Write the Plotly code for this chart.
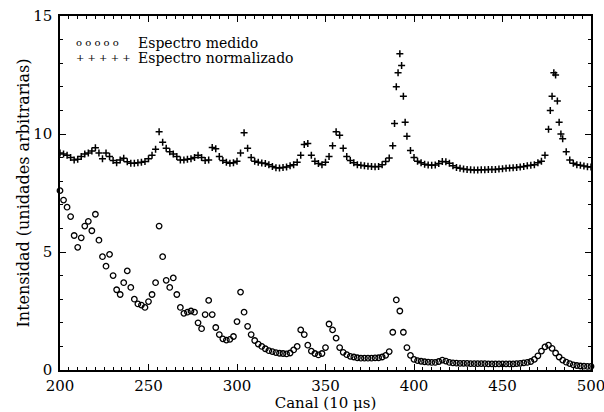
import plotly.graph_objects as go

# Channels (step of 2) plus a few extra points around the sharp peaks
canal = list(range(200, 501, 2))

medido = [
    7.6, 7.2, 6.9, 6.5, 5.7, 5.2, 5.6, 6.1, 6.3, 5.9,
    6.6, 5.5, 4.8, 4.4, 4.9, 4.0, 3.4, 3.2, 3.7, 4.2,
    3.5, 3.0, 2.8, 2.75, 2.65, 2.9, 3.2, 3.7, 6.1, 4.8,
    3.8, 3.5, 3.9, 3.2, 2.65, 2.4, 2.45, 2.5, 2.45, 2.0,
    1.75, 2.35, 2.95, 2.35, 1.8, 1.5, 1.32, 1.27, 1.3, 1.42,
    2.05, 3.3, 2.45, 1.85, 1.5, 1.25, 1.1, 1.0, 0.9, 0.82,
    0.78, 0.74, 0.71, 0.7, 0.68, 0.72, 0.85, 1.0, 1.7, 1.5,
    1.05, 0.8, 0.7, 0.64, 0.7, 0.95, 1.95, 1.7, 1.35, 0.95,
    0.75, 0.65, 0.58, 0.55, 0.52, 0.5, 0.5, 0.5, 0.5, 0.51,
    0.52, 0.55, 0.62, 0.78, 1.6, 2.97, 2.5, 1.6, 0.95, 0.62,
    0.45, 0.4, 0.37, 0.35, 0.33, 0.32, 0.32, 0.36, 0.42, 0.38,
    0.32, 0.3, 0.29, 0.28, 0.28, 0.28, 0.27, 0.27, 0.27, 0.27,
    0.27, 0.26, 0.26, 0.26, 0.26, 0.26, 0.26, 0.26, 0.26, 0.27,
    0.28, 0.3, 0.32, 0.36, 0.45, 0.6, 0.8, 0.98, 1.05, 0.92,
    0.72, 0.55, 0.42, 0.33, 0.27, 0.22, 0.19, 0.17, 0.16, 0.15,
    0.15,
]

normalizado = [
    9.2, 9.15, 9.1, 9.0, 8.9, 8.93, 9.05, 9.15, 9.2, 9.28,
    9.42, 9.2, 8.95, 9.2, 9.05, 8.88, 8.78, 8.9, 8.97, 8.82,
    8.76, 8.76, 8.78, 8.8, 8.84, 8.95, 9.1, 9.35, 10.1, 9.65,
    9.4, 9.25, 9.15, 9.05, 8.9, 8.9, 8.93, 8.95, 9.0, 9.1,
    9.0, 8.88, 8.9, 9.43, 9.38, 9.05, 8.88, 8.8, 8.76, 8.78,
    8.85, 9.2, 10.05, 9.4, 9.0, 8.85, 8.8, 8.77, 8.75, 8.7,
    8.62, 8.57, 8.56, 8.58, 8.6, 8.65, 8.7, 8.8, 9.1, 9.55,
    9.6, 9.1, 8.85, 8.75, 8.7, 8.8, 9.05, 9.5, 10.1, 9.95,
    9.4, 9.05, 8.88, 8.78, 8.7, 8.68, 8.65, 8.63, 8.62, 8.61,
    8.62, 8.7, 8.83, 8.98, 9.5, 12.0, 13.4, 11.6, 9.9, 9.3,
    9.0, 8.85, 8.78, 8.72, 8.69, 8.68, 8.69, 8.75, 8.83, 8.82,
    8.76, 8.65, 8.58, 8.55, 8.52, 8.5, 8.48, 8.47, 8.47, 8.48,
    8.48, 8.5, 8.5, 8.5, 8.52, 8.53, 8.55, 8.56, 8.57, 8.58,
    8.6, 8.62, 8.65, 8.68, 8.7, 8.78, 8.85, 9.1, 10.2, 11.6,
    12.5, 10.5, 9.8, 9.25, 8.9, 8.76, 8.7, 8.68, 8.64, 8.61,
    8.6,
]

canal_extra = [389, 391, 393, 395, 477, 479, 481, 483]
normalizado_extra = [10.45, 12.6, 12.9, 10.5, 11.0, 12.6, 11.4, 10.0]

x_ticks = [200, 250, 300, 350, 400, 450, 500]
y_ticks = [0, 5, 10, 15]

legend_labels = ["Espectro medido", "Espectro normalizado"]

serif = "DejaVu Serif"

fig = go.Figure()
fig.add_trace(go.Scatter(
    x=canal, y=medido, mode="markers", name=legend_labels[0],
    marker=dict(symbol="circle-open", size=5.5, color="black",
                line=dict(width=1.3, color="black")),
    showlegend=False, cliponaxis=False,
))
fig.add_trace(go.Scatter(
    x=canal + canal_extra, y=normalizado + normalizado_extra,
    mode="markers", name=legend_labels[1],
    marker=dict(symbol="cross-thin", size=5, color="black",
                line=dict(width=1.5, color="black")),
    showlegend=False,
))

# legend drawn as text, as in the original figure
fig.add_annotation(xref="paper", yref="paper", x=0.026, y=0.925,
                   xanchor="left", yanchor="middle", showarrow=False,
                   text="o o o o o",
                   font=dict(family=serif, size=10, color="black"))
fig.add_annotation(xref="paper", yref="paper", x=0.143, y=0.925,
                   xanchor="left", yanchor="middle", showarrow=False,
                   text=legend_labels[0],
                   font=dict(family=serif, size=14, color="black"))
fig.add_annotation(xref="paper", yref="paper", x=0.026, y=0.882,
                   xanchor="left", yanchor="middle", showarrow=False,
                   text="+ + + + +",
                   font=dict(family=serif, size=10, color="black"))
fig.add_annotation(xref="paper", yref="paper", x=0.143, y=0.882,
                   xanchor="left", yanchor="middle", showarrow=False,
                   text=legend_labels[1],
                   font=dict(family=serif, size=14, color="black"))

axis_common = dict(
    showline=True, linecolor="black", linewidth=1.5, mirror="allticks",
    ticks="inside", ticklen=6, tickwidth=1.2, tickcolor="black",
    showgrid=False, zeroline=False, automargin=False,
    ticklabeloverflow="allow",
    tickfont=dict(family=serif, size=15, color="black"),
)

fig.update_xaxes(
    range=[200, 500], tickvals=x_ticks, ticklabelstandoff=1,
    minor=dict(ticks="inside", ticklen=3, tickcolor="black", dtick=5, tick0=200),
    title=dict(text="Canal (10 μs)", font=dict(family=serif, size=15, color="black"),
               standoff=4),
    **axis_common,
)
fig.update_yaxes(
    range=[0, 15], tickvals=y_ticks, ticklabelstandoff=3,
    minor=dict(ticks="inside", ticklen=3, tickcolor="black", dtick=1, tick0=0),
    title=dict(text="Intensidad (unidades arbitrarias)",
               font=dict(family=serif, size=16, color="black"), standoff=0),
    **axis_common,
)

fig.update_layout(
    width=604, height=412,
    margin=dict(l=60, r=13, t=16, b=42),
    paper_bgcolor="white", plot_bgcolor="white",
)

fig.write_html("out.html", config={"displayModeBar": False},
               post_script="document.body.style.margin='0';")
